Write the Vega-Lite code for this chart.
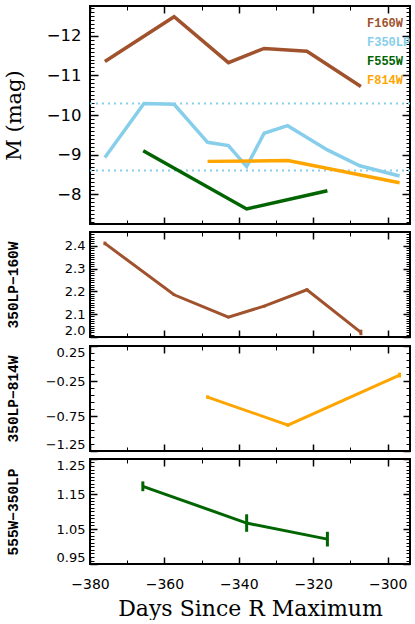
{
  "$schema": "https://vega.github.io/schema/vega-lite/v6.json",
  "padding": {"left": 2, "top": 4, "right": 0, "bottom": 0},
  "spacing": 4,
  "datasets": {
    "mags": [
      {"filter": "F160W", "day": -376.0, "mag": -11.35},
      {"filter": "F160W", "day": -357.4, "mag": -12.48},
      {"filter": "F160W", "day": -342.8, "mag": -11.32},
      {"filter": "F160W", "day": -333.2, "mag": -11.68},
      {"filter": "F160W", "day": -321.7, "mag": -11.61},
      {"filter": "F160W", "day": -307.2, "mag": -10.72},
      {"filter": "F350LP", "day": -376.0, "mag": -8.93},
      {"filter": "F350LP", "day": -365.5, "mag": -10.29},
      {"filter": "F350LP", "day": -357.4, "mag": -10.27},
      {"filter": "F350LP", "day": -348.4, "mag": -9.31},
      {"filter": "F350LP", "day": -342.8, "mag": -9.23},
      {"filter": "F350LP", "day": -337.9, "mag": -8.70},
      {"filter": "F350LP", "day": -333.2, "mag": -9.54},
      {"filter": "F350LP", "day": -326.9, "mag": -9.73},
      {"filter": "F350LP", "day": -321.7, "mag": -9.43},
      {"filter": "F350LP", "day": -316.2, "mag": -9.12},
      {"filter": "F350LP", "day": -307.5, "mag": -8.72},
      {"filter": "F350LP", "day": -296.8, "mag": -8.46},
      {"filter": "F555W", "day": -365.7, "mag": -9.10},
      {"filter": "F555W", "day": -337.9, "mag": -7.63},
      {"filter": "F555W", "day": -316.2, "mag": -8.09},
      {"filter": "F814W", "day": -348.4, "mag": -8.83},
      {"filter": "F814W", "day": -326.8, "mag": -8.85},
      {"filter": "F814W", "day": -296.8, "mag": -8.29}
    ],
    "levels": [{"level": -10.29}, {"level": -8.60}],
    "c160": [
      {"day": -376.0, "val": 2.41, "err": 0.008},
      {"day": -357.4, "val": 2.185, "err": 0.005},
      {"day": -342.8, "val": 2.087, "err": 0.005},
      {"day": -333.2, "val": 2.135, "err": 0.006},
      {"day": -321.7, "val": 2.207, "err": 0.006},
      {"day": -307.2, "val": 2.02, "err": 0.012}
    ],
    "c814": [
      {"day": -348.4, "val": -0.48, "err": 0.025},
      {"day": -326.8, "val": -0.88, "err": 0.025},
      {"day": -296.8, "val": -0.165, "err": 0.035}
    ],
    "c555": [
      {"day": -365.8, "val": 1.172, "err": 0.014},
      {"day": -337.9, "val": 1.067, "err": 0.025},
      {"day": -316.2, "val": 1.021, "err": 0.021}
    ]
  },
  "vconcat": [
    {
      "width": 320,
      "height": 218,
      "layer": [
        {
          "data": {"name": "levels"},
          "mark": {"type": "rule", "color": "#87ceeb", "strokeDash": [2, 4], "strokeWidth": 2},
          "encoding": {
            "y": {"field": "level", "type": "quantitative", "scale": {"domain": [-12.75, -7.25], "reverse": true}, "axis": null}
          }
        },
        {
          "data": {"name": "mags"},
          "mark": {"type": "line", "strokeWidth": 3.5},
          "encoding": {
            "x": {"field": "day", "type": "quantitative", "scale": {"domain": [-380, -294]},
              "axis": {"orient": "bottom", "values": [-380, -360, -340, -320, -300], "offset": -7, "tickSize": 7, "tickWidth": 1.5, "labels": false, "title": null}},
            "y": {"field": "mag", "type": "quantitative", "scale": {"domain": [-12.75, -7.25], "reverse": true},
              "axis": {"orient": "left", "values": [-12, -11, -10, -9, -8], "offset": -8, "tickSize": 8, "tickWidth": 1.5, "labelFontSize": 16.5, "labelPadding": 9, "minExtent": 50, "maxExtent": 50, "title": "M (mag)", "titleFont": "DejaVu Serif", "titleFontSize": 21, "titleFontWeight": "normal", "titlePadding": 24}},
            "color": {"field": "filter", "type": "nominal",
              "scale": {"domain": ["F160W", "F350LP", "F555W", "F814W"], "range": ["#a0522d", "#87ceeb", "#006400", "#ffa500"]},
              "legend": {"title": null, "orient": "none", "legendX": 265, "legendY": 11, "symbolSize": 0, "symbolStrokeWidth": 0, "symbolOpacity": 0, "labelOffset": 0, "labelFont": "Liberation Mono", "labelFontWeight": "bold", "labelFontSize": 12, "rowPadding": 7, "padding": 0,
                "encode": {"labels": {"update": {"fill": {"signal": "datum.value === 'F160W' ? '#a0522d' : datum.value === 'F350LP' ? '#87ceeb' : datum.value === 'F555W' ? '#006400' : '#ffa500'"}}}}}}
          }
        },
        {
          "data": {"name": "mags"},
          "mark": {"type": "point", "opacity": 0},
          "encoding": {
            "x": {"field": "day", "type": "quantitative", "scale": {"domain": [-380, -294]},
              "axis": {"orient": "top", "values": [-380, -360, -340, -320, -300], "offset": -7, "tickSize": 7, "tickWidth": 1.5, "labels": false, "title": null}},
            "y": {"field": "mag", "type": "quantitative", "scale": {"domain": [-12.75, -7.25], "reverse": true},
              "axis": {"orient": "right", "values": [-12, -11, -10, -9, -8], "offset": -8, "tickSize": 8, "tickWidth": 1.5, "labels": false, "title": null}}
          }
        },
        {
          "data": {"name": "mags"},
          "mark": {"type": "point", "opacity": 0},
          "encoding": {
            "x": {"field": "day", "type": "quantitative", "scale": {"domain": [-380, -294]},
              "axis": {"orient": "bottom", "tickCount": 9, "offset": -4, "tickSize": 4, "tickWidth": 1, "labels": false, "title": null}},
            "y": {"field": "mag", "type": "quantitative", "scale": {"domain": [-12.75, -7.25], "reverse": true},
              "axis": {"orient": "left", "tickCount": 55, "offset": -4, "tickSize": 4, "tickWidth": 1, "labels": false, "title": null}}
          }
        },
        {
          "data": {"name": "mags"},
          "mark": {"type": "point", "opacity": 0},
          "encoding": {
            "x": {"field": "day", "type": "quantitative", "scale": {"domain": [-380, -294]},
              "axis": {"orient": "top", "tickCount": 9, "offset": -4, "tickSize": 4, "tickWidth": 1, "labels": false, "title": null}},
            "y": {"field": "mag", "type": "quantitative", "scale": {"domain": [-12.75, -7.25], "reverse": true},
              "axis": {"orient": "right", "tickCount": 55, "offset": -4, "tickSize": 4, "tickWidth": 1, "labels": false, "title": null}}
          }
        }
      ],
      "resolve": {"axis": {"x": "independent", "y": "independent"}}
    },
    {
      "width": 320,
      "height": 105,
      "data": {"name": "c160"},
      "layer": [
        {
          "mark": {"type": "line", "color": "#a0522d", "strokeWidth": 3},
          "encoding": {
            "x": {"field": "day", "type": "quantitative", "scale": {"domain": [-380, -294]},
              "axis": {"orient": "bottom", "values": [-380, -360, -340, -320, -300], "offset": -7, "tickSize": 7, "tickWidth": 1.5, "labels": false, "title": null}},
            "y": {"field": "val", "type": "quantitative", "scale": {"domain": [2.0, 2.46]},
              "axis": {"orient": "left", "values": [2.0, 2.1, 2.2, 2.3, 2.4], "format": ".1f", "offset": -7, "tickSize": 7, "tickWidth": 1.5, "labelFontSize": 13, "labelPadding": 5, "labelFlush": true, "minExtent": 50, "maxExtent": 50, "title": "350LP−160W", "titleFont": "Liberation Mono", "titleFontWeight": "bold", "titleFontSize": 14.5, "titlePadding": 27}}
          }
        },
        {
          "mark": {"type": "errorbar", "color": "#a0522d", "thickness": 3},
          "encoding": {
            "x": {"field": "day", "type": "quantitative", "scale": {"domain": [-380, -294]}, "axis": null},
            "y": {"field": "val", "type": "quantitative", "scale": {"domain": [2.0, 2.46]}, "axis": null},
            "yError": {"field": "err"}
          }
        },
        {
          "mark": {"type": "point", "opacity": 0},
          "encoding": {
            "x": {"field": "day", "type": "quantitative", "scale": {"domain": [-380, -294]},
              "axis": {"orient": "top", "values": [-380, -360, -340, -320, -300], "offset": -7, "tickSize": 7, "tickWidth": 1.5, "labels": false, "title": null}},
            "y": {"field": "val", "type": "quantitative", "scale": {"domain": [2.0, 2.46]},
              "axis": {"orient": "right", "values": [2.0, 2.1, 2.2, 2.3, 2.4], "offset": -7, "tickSize": 7, "tickWidth": 1.5, "labels": false, "title": null}}
          }
        },
        {
          "mark": {"type": "point", "opacity": 0},
          "encoding": {
            "x": {"field": "day", "type": "quantitative", "scale": {"domain": [-380, -294]},
              "axis": {"orient": "bottom", "tickCount": 9, "offset": -4, "tickSize": 4, "tickWidth": 1, "labels": false, "title": null}},
            "y": {"field": "val", "type": "quantitative", "scale": {"domain": [2.0, 2.46]},
              "axis": {"orient": "left", "tickCount": 46, "offset": -4, "tickSize": 4, "tickWidth": 1, "labels": false, "title": null}}
          }
        },
        {
          "mark": {"type": "point", "opacity": 0},
          "encoding": {
            "x": {"field": "day", "type": "quantitative", "scale": {"domain": [-380, -294]},
              "axis": {"orient": "top", "tickCount": 9, "offset": -4, "tickSize": 4, "tickWidth": 1, "labels": false, "title": null}},
            "y": {"field": "val", "type": "quantitative", "scale": {"domain": [2.0, 2.46]},
              "axis": {"orient": "right", "tickCount": 46, "offset": -4, "tickSize": 4, "tickWidth": 1, "labels": false, "title": null}}
          }
        }
      ],
      "resolve": {"axis": {"x": "independent", "y": "independent"}}
    },
    {
      "width": 320,
      "height": 105,
      "data": {"name": "c814"},
      "layer": [
        {
          "mark": {"type": "line", "color": "#ffa500", "strokeWidth": 3},
          "encoding": {
            "x": {"field": "day", "type": "quantitative", "scale": {"domain": [-380, -294]},
              "axis": {"orient": "bottom", "values": [-380, -360, -340, -320, -300], "offset": -7, "tickSize": 7, "tickWidth": 1.5, "labels": false, "title": null}},
            "y": {"field": "val", "type": "quantitative", "scale": {"domain": [-1.25, 0.25]},
              "axis": {"orient": "left", "values": [-1.25, -0.75, -0.25, 0.25], "format": ".2f", "offset": -7, "tickSize": 7, "tickWidth": 1.5, "labelFontSize": 13, "labelPadding": 5, "labelFlush": true, "minExtent": 50, "maxExtent": 50, "title": "350LP−814W", "titleFont": "Liberation Mono", "titleFontWeight": "bold", "titleFontSize": 14.5, "titlePadding": 27}}
          }
        },
        {
          "mark": {"type": "errorbar", "color": "#ffa500", "thickness": 3},
          "encoding": {
            "x": {"field": "day", "type": "quantitative", "scale": {"domain": [-380, -294]}, "axis": null},
            "y": {"field": "val", "type": "quantitative", "scale": {"domain": [-1.25, 0.25]}, "axis": null},
            "yError": {"field": "err"}
          }
        },
        {
          "mark": {"type": "point", "opacity": 0},
          "encoding": {
            "x": {"field": "day", "type": "quantitative", "scale": {"domain": [-380, -294]},
              "axis": {"orient": "top", "values": [-380, -360, -340, -320, -300], "offset": -7, "tickSize": 7, "tickWidth": 1.5, "labels": false, "title": null}},
            "y": {"field": "val", "type": "quantitative", "scale": {"domain": [-1.25, 0.25]},
              "axis": {"orient": "right", "values": [-1.25, -0.75, -0.25, 0.25], "offset": -7, "tickSize": 7, "tickWidth": 1.5, "labels": false, "title": null}}
          }
        },
        {
          "mark": {"type": "point", "opacity": 0},
          "encoding": {
            "x": {"field": "day", "type": "quantitative", "scale": {"domain": [-380, -294]},
              "axis": {"orient": "bottom", "tickCount": 9, "offset": -4, "tickSize": 4, "tickWidth": 1, "labels": false, "title": null}},
            "y": {"field": "val", "type": "quantitative", "scale": {"domain": [-1.25, 0.25]},
              "axis": {"orient": "left", "values": [-1.15, -1.05, -0.95, -0.85, -0.65, -0.55, -0.45, -0.35, -0.15, -0.05, 0.05, 0.15], "offset": -4, "tickSize": 4, "tickWidth": 1, "labels": false, "title": null}}
          }
        },
        {
          "mark": {"type": "point", "opacity": 0},
          "encoding": {
            "x": {"field": "day", "type": "quantitative", "scale": {"domain": [-380, -294]},
              "axis": {"orient": "top", "tickCount": 9, "offset": -4, "tickSize": 4, "tickWidth": 1, "labels": false, "title": null}},
            "y": {"field": "val", "type": "quantitative", "scale": {"domain": [-1.25, 0.25]},
              "axis": {"orient": "right", "values": [-1.15, -1.05, -0.95, -0.85, -0.65, -0.55, -0.45, -0.35, -0.15, -0.05, 0.05, 0.15], "offset": -4, "tickSize": 4, "tickWidth": 1, "labels": false, "title": null}}
          }
        }
      ],
      "resolve": {"axis": {"x": "independent", "y": "independent"}}
    },
    {
      "width": 320,
      "height": 105,
      "data": {"name": "c555"},
      "layer": [
        {
          "mark": {"type": "line", "color": "#006400", "strokeWidth": 3},
          "encoding": {
            "x": {"field": "day", "type": "quantitative", "scale": {"domain": [-380, -294]},
              "axis": {"orient": "bottom", "values": [-380, -360, -340, -320, -300], "offset": -7, "tickSize": 7, "tickWidth": 1.5, "labelFontSize": 14, "labelPadding": 13, "labelFlush": false, "minExtent": 30, "maxExtent": 30, "title": "Days Since R Maximum", "titleFont": "DejaVu Serif", "titleFontSize": 22, "titleFontWeight": "normal", "titlePadding": 11}},
            "y": {"field": "val", "type": "quantitative", "scale": {"domain": [0.95, 1.25]},
              "axis": {"orient": "left", "values": [0.95, 1.05, 1.15, 1.25], "format": ".2f", "offset": -7, "tickSize": 7, "tickWidth": 1.5, "labelFontSize": 13, "labelPadding": 5, "labelFlush": true, "minExtent": 50, "maxExtent": 50, "title": "555W−350LP", "titleFont": "Liberation Mono", "titleFontWeight": "bold", "titleFontSize": 14.5, "titlePadding": 27}}
          }
        },
        {
          "mark": {"type": "errorbar", "color": "#006400", "thickness": 3},
          "encoding": {
            "x": {"field": "day", "type": "quantitative", "scale": {"domain": [-380, -294]}, "axis": null},
            "y": {"field": "val", "type": "quantitative", "scale": {"domain": [0.95, 1.25]}, "axis": null},
            "yError": {"field": "err"}
          }
        },
        {
          "mark": {"type": "point", "opacity": 0},
          "encoding": {
            "x": {"field": "day", "type": "quantitative", "scale": {"domain": [-380, -294]},
              "axis": {"orient": "top", "values": [-380, -360, -340, -320, -300], "offset": -7, "tickSize": 7, "tickWidth": 1.5, "labels": false, "title": null}},
            "y": {"field": "val", "type": "quantitative", "scale": {"domain": [0.95, 1.25]},
              "axis": {"orient": "right", "values": [0.95, 1.05, 1.15, 1.25], "offset": -7, "tickSize": 7, "tickWidth": 1.5, "labels": false, "title": null}}
          }
        },
        {
          "mark": {"type": "point", "opacity": 0},
          "encoding": {
            "x": {"field": "day", "type": "quantitative", "scale": {"domain": [-380, -294]},
              "axis": {"orient": "bottom", "tickCount": 9, "offset": -4, "tickSize": 4, "tickWidth": 1, "labels": false, "title": null}},
            "y": {"field": "val", "type": "quantitative", "scale": {"domain": [0.95, 1.25]},
              "axis": {"orient": "left", "tickCount": 30, "offset": -4, "tickSize": 4, "tickWidth": 1, "labels": false, "title": null}}
          }
        },
        {
          "mark": {"type": "point", "opacity": 0},
          "encoding": {
            "x": {"field": "day", "type": "quantitative", "scale": {"domain": [-380, -294]},
              "axis": {"orient": "top", "tickCount": 9, "offset": -4, "tickSize": 4, "tickWidth": 1, "labels": false, "title": null}},
            "y": {"field": "val", "type": "quantitative", "scale": {"domain": [0.95, 1.25]},
              "axis": {"orient": "right", "tickCount": 30, "offset": -4, "tickSize": 4, "tickWidth": 1, "labels": false, "title": null}}
          }
        }
      ],
      "resolve": {"axis": {"x": "independent", "y": "independent"}}
    }
  ],
  "resolve": {"scale": {"color": "independent"}, "legend": {"color": "independent"}},
  "config": {
    "view": {"stroke": "black", "strokeWidth": 2},
    "axis": {"domain": false, "grid": false, "ticks": true, "tickColor": "black", "labelColor": "black", "titleColor": "black", "labelFont": "DejaVu Sans", "labelFontSize": 13}
  }
}
